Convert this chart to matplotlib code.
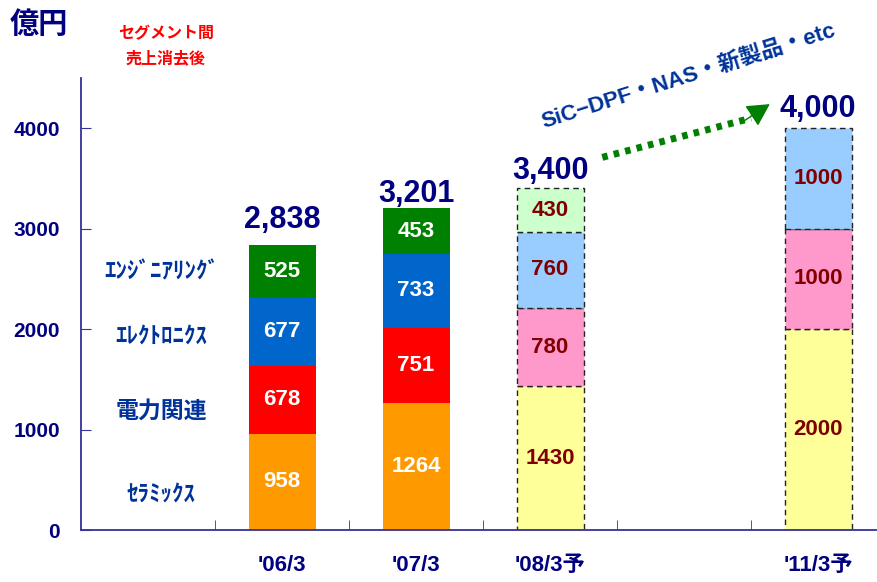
import matplotlib.pyplot as plt
import numpy as np

plt.rcParams['font.family'] = ['Liberation Sans', 'Noto Sans CJK JP']
plt.rcParams['font.weight'] = 'bold'

# data
categories = ["'06/3", "'07/3", "'08/3予", "'11/3予"]
positions = [0, 1, 2, 4]
ceramics = [958, 1264, 1430, 2000]
power = [678, 751, 780, 1000]
electronics = [677, 733, 760, 1000]
engineering = [525, 453, 430, 0]
totals = ["2,838", "3,201", "3,400", "4,000"]
segment_names = ["ｾﾗﾐｯｸｽ", "電力関連", "ｴﾚｸﾄﾛﾆｸｽ", "ｴﾝｼﾞﾆｱﾘﾝｸﾞ"]
is_forecast = [False, False, True, True]

solid_colors = ["#FF9900", "#FF0000", "#0066CC", "#008000"]
pale_colors = ["#FFFF99", "#FF99CC", "#99CCFF", "#CCFFCC"]

navy = "#000080"
axis_col = "#333399"
label_blue = "#003399"

fig = plt.figure(figsize=(8.77, 5.82), dpi=100)
ax = fig.add_axes([81 / 877, 52 / 582, 796 / 877, 452 / 582])

series = [ceramics, power, electronics, engineering]
bottoms = np.zeros(len(positions))
for s_idx, vals in enumerate(series):
    for i, (x, v) in enumerate(zip(positions, vals)):
        if v == 0:
            continue
        if is_forecast[i]:
            ax.bar(x, v, 0.5, bottom=bottoms[i], color=pale_colors[s_idx],
                   edgecolor="#222222", linestyle=(0, (4, 3)), linewidth=1)
            tcol = "#800000"
        else:
            ax.bar(x, v, 0.5, bottom=bottoms[i], color=solid_colors[s_idx],
                   edgecolor="none")
            tcol = "white"
        ax.text(x, bottoms[i] + v / 2, str(v), ha="center", va="center",
                color=tcol, fontsize=16, fontweight="bold")
    bottoms = bottoms + np.array(vals)

# total labels, gap above each bar differs a bit in the original
total_gap = [12, 4.5, 6.5, 8]
for x, top, lab, g in zip(positions, bottoms, totals, total_gap):
    ax.annotate(lab, (x, top), xytext=(0, g), textcoords="offset points",
                ha="center", va="baseline", color=navy, fontsize=22,
                fontweight="bold")

# segment labels on the left
seg_y = [350, 1180, 1920, 2570]
seg_size = [16.5, 16.5, 16.5, 16.5]
for name, y, fs in zip(segment_names, seg_y, seg_size):
    ax.text(-0.9, y, name, ha="center", va="center", color=label_blue,
            fontsize=fs, fontweight="bold", family=["Noto Sans CJK JP"])

ax.set_xlim(-1.5, 4.44)
ax.set_ylim(0, 4500)
ax.set_yticks([0, 1000, 2000, 3000, 4000])
ax.set_xticks(positions)
ax.set_xticklabels(categories)
ax.set_xticks([-0.5, 0.5, 1.5, 2.5, 3.5], minor=True)

for sp in ["top", "right"]:
    ax.spines[sp].set_visible(False)
for sp in ["left", "bottom"]:
    ax.spines[sp].set_color(axis_col)
    ax.spines[sp].set_linewidth(1.3)

ax.tick_params(axis="y", direction="in", length=7, color=axis_col,
               labelsize=15, labelcolor=navy, pad=15)
ax.tick_params(axis="x", which="major", length=0, labelsize=16,
               labelcolor=navy, pad=18)
ax.tick_params(axis="x", which="minor", direction="in", length=7,
               color=axis_col)
for lab in ax.get_yticklabels() + ax.get_xticklabels():
    lab.set_fontweight("bold")

# unit and note
fig.text(10 / 877, 1 - 24 / 582, "億円", ha="left", va="center", color=navy,
         fontsize=21, fontweight="bold", family=["Noto Sans CJK JP"])
fig.text(166 / 877, 1 - 33 / 582, "セグメント間", ha="center", va="center",
         color="#FF0000", fontsize=11.5, fontweight="bold",
         family=["Noto Sans CJK JP"])
fig.text(166 / 877, 1 - 58 / 582, "売上消去後", ha="center", va="center",
         color="#FF0000", fontsize=11.5, fontweight="bold",
         family=["Noto Sans CJK JP"])

# growth arrow
ax.plot([2.39, 3.5], [3710, 4100], linestyle=(0, (0.8, 0.9)), linewidth=5,
        color="#008000", solid_capstyle="butt")
ax.annotate("", xy=(3.64, 4240), xytext=(3.45, 4075),
            arrowprops=dict(arrowstyle="-|>,head_length=1.4,head_width=0.75",
                            color="#008000", lw=1, shrinkA=0, shrinkB=0))
ax.text(3.03, 4520, "SiC−DPF・NAS・新製品・etc", ha="center", va="center",
        rotation=17.5, color=label_blue, fontsize=16, fontweight="bold",
        rotation_mode="anchor", clip_on=False)

fig.savefig("out.png", dpi=100)
